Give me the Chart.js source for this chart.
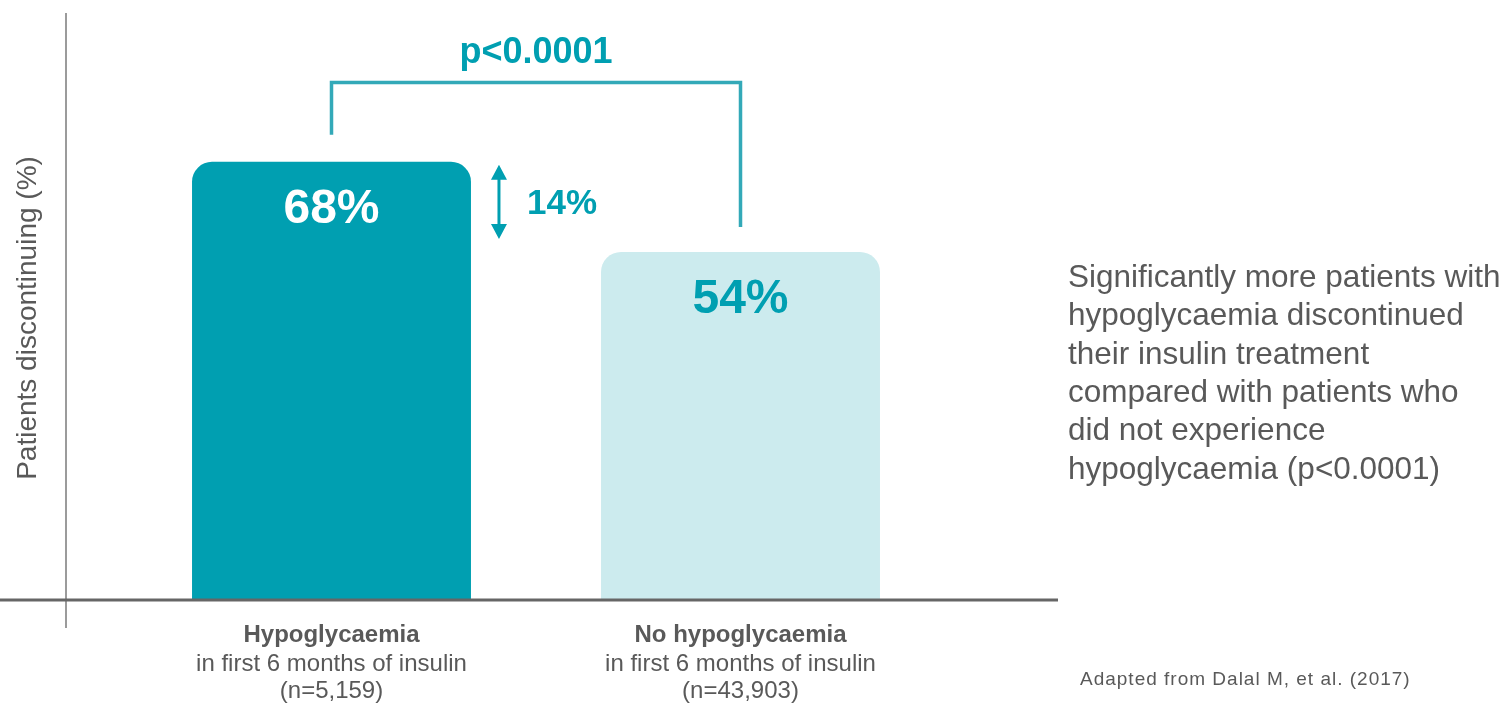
<!DOCTYPE html>
<html>
<head>
<meta charset="utf-8">
<script src="https://cdn.jsdelivr.net/npm/chart.js@4"></script>
<style>
  body { margin: 0; background: #fff; }
  #wrap { width: 1509px; height: 703px; position: relative; }
</style>
</head>
<body>
<div id="wrap"><canvas id="myChart"></canvas></div>
<script>
// dati
const categories = ['Hypoglycaemia', 'No hypoglycaemia'];
const subLabels = ['in first 6 months of insulin', 'in first 6 months of insulin'];
const sampleSizes = ['(n=5,159)', '(n=43,903)'];
const discontinued = [68, 54];
const diffLabel = '14%';
const pLabel = 'p<0.0001';
const yTitle = 'Patients discontinuing (%)';
const noteLines = [
  'Significantly more patients with',
  'hypoglycaemia discontinued',
  'their insulin treatment',
  'compared with patients who',
  'did not experience',
  'hypoglycaemia (p<0.0001)'
];
const source = 'Adapted from Dalal M, et al. (2017)';

const teal = '#009FB1';
const grey = '#595959';
const font = '"Liberation Sans", Arial, sans-serif';

// disegna assi, etichette e annotazioni
const extras = {
  id: 'extras',
  afterDatasetsDraw(chart) {
    const c = chart.ctx;
    const y = chart.scales.y;
    const x = chart.scales.x;
    const area = chart.chartArea;
    const bars = chart.getDatasetMeta(0).data;
    c.save();

    // asse y
    c.strokeStyle = '#7a7a7a';
    c.lineWidth = 1.5;
    c.beginPath();
    c.moveTo(66, 13);
    c.lineTo(66, 628);
    c.stroke();

    // asse x
    c.strokeStyle = '#666';
    c.lineWidth = 3;
    c.beginPath();
    c.moveTo(0, area.bottom);
    c.lineTo(1058, area.bottom);
    c.stroke();

    // titolo asse y
    c.save();
    c.translate(36, 318);
    c.rotate(-Math.PI / 2);
    c.fillStyle = grey;
    c.font = '28px ' + font;
    c.textAlign = 'center';
    c.textBaseline = 'alphabetic';
    c.fillText(yTitle, 0, 0);
    c.restore();

    // valori dentro le barre
    c.textAlign = 'center';
    c.font = 'bold 48px ' + font;
    for (let i = 0; i < discontinued.length; i++) {
      c.fillStyle = i === 0 ? '#fff' : teal;
      c.fillText(discontinued[i] + '%', bars[i].x, y.getPixelForValue(discontinued[i]) + 61);
    }

    // etichette categorie
    for (let i = 0; i < categories.length; i++) {
      const cx = x.getPixelForValue(i);
      c.fillStyle = grey;
      c.font = 'bold 24px ' + font;
      c.fillText(categories[i], cx, 642);
      c.font = '24px ' + font;
      c.fillText(subLabels[i], cx, 670.5);
      c.fillText(sampleSizes[i], cx, 698);
    }

    // parentesi p-value
    const topY = y.getPixelForValue(80.3);
    const x1 = bars[0].x, x2 = bars[1].x;
    c.strokeStyle = '#33A9B8';
    c.lineWidth = 3.5;
    c.beginPath();
    c.moveTo(x1, y.getPixelForValue(discontinued[0]) - 27);
    c.lineTo(x1, topY);
    c.lineTo(x2, topY);
    c.lineTo(x2, y.getPixelForValue(discontinued[1]) - 25);
    c.stroke();
    c.fillStyle = teal;
    c.font = 'bold 36px ' + font;
    c.fillText(pLabel, (x1 + x2) / 2, topY - 20);

    // freccia differenza
    const ax = bars[0].x + bars[0].width / 2 + 28;
    const aTop = y.getPixelForValue(discontinued[0]) + 3;
    const aBot = y.getPixelForValue(discontinued[1]) - 13;
    c.strokeStyle = teal;
    c.lineWidth = 3;
    c.beginPath();
    c.moveTo(ax, aTop + 10);
    c.lineTo(ax, aBot - 10);
    c.stroke();
    c.beginPath();
    c.moveTo(ax, aTop);
    c.lineTo(ax - 8, aTop + 15);
    c.lineTo(ax + 8, aTop + 15);
    c.closePath();
    c.moveTo(ax, aBot);
    c.lineTo(ax - 8, aBot - 15);
    c.lineTo(ax + 8, aBot - 15);
    c.closePath();
    c.fill();
    c.textAlign = 'left';
    c.textBaseline = 'middle';
    c.font = 'bold 35px ' + font;
    c.fillText(diffLabel, ax + 28, (aTop + aBot) / 2 + 2);

    // testo a destra
    c.textBaseline = 'alphabetic';
    c.fillStyle = grey;
    c.font = '31.5px ' + font;
    for (let i = 0; i < noteLines.length; i++) {
      c.fillText(noteLines[i], 1068, 287 + i * 38.3);
    }
    c.font = '19px ' + font;
    c.letterSpacing = '1px';
    c.fillText(source, 1080, 685);

    c.restore();
  }
};

new Chart(document.getElementById('myChart'), {
  type: 'bar',
  data: {
    labels: categories,
    datasets: [{
      data: discontinued,
      backgroundColor: [teal, '#CCEBEE'],
      borderRadius: 20,
      borderSkipped: 'start',
      barPercentage: 0.682,
      categoryPercentage: 1
    }]
  },
  options: {
    responsive: true,
    maintainAspectRatio: false,
    animation: false,
    layout: { padding: { left: 127, right: 564, top: 20, bottom: 103 } },
    plugins: { legend: { display: false }, tooltip: { enabled: false } },
    scales: {
      x: { display: false },
      y: { display: false, min: 0, max: 90 }
    }
  },
  plugins: [extras]
});
</script>
</body>
</html>
